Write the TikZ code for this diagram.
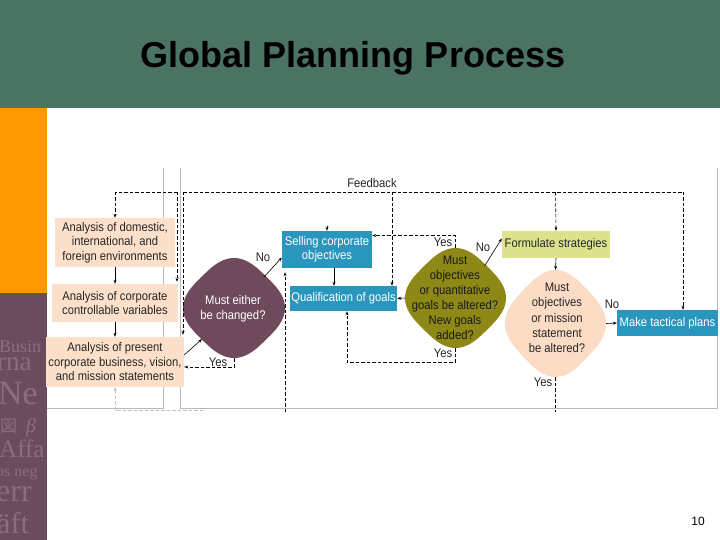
\documentclass[tikz,border=0pt]{standalone}
\usepackage{fontspec}
\setmainfont{Liberation Sans}
\newfontfamily\condfont[FakeStretch=0.9]{Liberation Sans}
\newfontfamily\decofont{Liberation Serif}
\newfontfamily\cjkfont{Noto Sans CJK SC}
\usetikzlibrary{shapes.geometric,arrows.meta}
\definecolor{hdr}{HTML}{4B7363}
\definecolor{orng}{HTML}{FF9900}
\definecolor{plum}{HTML}{6B4C5F}
\definecolor{plumtxt}{HTML}{8A6D80}
\definecolor{peach}{HTML}{FCE0C9}
\definecolor{teal}{HTML}{2A96BE}
\definecolor{dplum}{HTML}{6F4A5C}
\definecolor{olive}{HTML}{8E8916}
\definecolor{lime}{HTML}{DCE38C}
\definecolor{dpeach}{HTML}{FDDCC6}
\newcommand\blobpath[2]{plot[domain=0.5:360.5, samples=121, smooth cycle] ({#1*(sign(cos(\x))*abs(cos(\x))^0.667-sign(sin(\x))*abs(sin(\x))^0.667)/1.588},{#2*(sign(cos(\x))*abs(cos(\x))^0.667+sign(sin(\x))*abs(sin(\x))^0.667)/1.588})}
\begin{document}
\begin{tikzpicture}[x=1pt,y=-1pt,
  txt/.style={font=\condfont\fontsize{12.5}{14.5}\selectfont, align=center, inner sep=0pt},
  pbox/.style={txt, fill=peach, text=black!85},
  tbox/.style={txt, fill=teal, text=white},
  lbox/.style={txt, fill=lime, text=black!85},
  dia/.style={diamond, inner sep=0pt},
  lbl/.style={font=\condfont\fontsize{12.5}{14}\selectfont, inner sep=0pt, text=black!85},
  arr/.style={-{Stealth[length=4pt,width=3pt]}},
  con/.style={line width=0.6pt, black},
  dsh/.style={line width=0.6pt, dash pattern=on 3.5pt off 2pt, black},
  frame/.style={line width=0.8pt, gray!55},
  deco/.style={text=plumtxt, anchor=base west, inner sep=0pt}]
\useasboundingbox (0,0) rectangle (720,540);
\fill[white] (0,0) rectangle (720,540);
\fill[hdr] (0,0) rectangle (720,108);
\node[font=\bfseries\fontsize{36}{40}\selectfont, text=black] (title) at (353,58) {Global Planning Process};
\fill[orng] (0,108) rectangle (47,293);
\fill[plum] (0,293) rectangle (47,540);
\begin{scope}
\clip (0,293) rectangle (47,540);
\node[deco, font=\decofont\fontsize{18}{18}\selectfont] (dk1) at (-1,352) {Busin};
\node[deco, font=\decofont\fontsize{27}{27}\selectfont] (dk2) at (-3,370) {rna};
\node[deco, font=\decofont\fontsize{34}{34}\selectfont] (dk3) at (-2,404) {Ne};
\node[deco, font=\cjkfont\fontsize{17}{17}\selectfont] (dk4) at (0,432) {図};
\node[deco, font=\decofont\itshape\fontsize{20}{20}\selectfont] (dk5) at (26,432) {β};
\node[deco, font=\decofont\fontsize{25}{25}\selectfont] (dk6) at (-1,457) {Affa};
\node[deco, font=\decofont\fontsize{16}{16}\selectfont] (dk7) at (-4,476) {os neg};
\node[deco, font=\decofont\fontsize{32}{32}\selectfont] (dk8) at (-4,501) {err};
\node[deco, font=\decofont\fontsize{30}{30}\selectfont] (dk9) at (-3,533) {äft};
\end{scope}
% frame
\draw[frame] (47,408) -- (163,408) -- (163,168);
\draw[frame] (180,168) -- (180,408) -- (717,408) -- (717,168);
% coordinates
\coordinate (fbL) at (115,192);
\coordinate (fbA) at (177,192);
\coordinate (fbB) at (183,192);
\coordinate (fbQ) at (392,192);
\coordinate (fbF) at (555.5,192);
\coordinate (fbR) at (683,192);
\coordinate (botS) at (285,412);
\coordinate (botD) at (555.5,412);
\coordinate (gb1) at (203,410);
\coordinate (gb0) at (115,410);
% boxes
\node[pbox, minimum width=120pt, minimum height=49pt] (A1) at (115,242.5) {Analysis of domestic,\\international, and\\foreign environments};
\node[pbox, minimum width=126pt, minimum height=38pt] (A2) at (115,303) {Analysis of corporate\\controllable variables};
\node[pbox, minimum width=138pt, minimum height=50pt] (A3) at (115,362) {Analysis of present\\corporate business, vision,\\and mission statements};
\node[tbox, minimum width=90pt, minimum height=37pt] (S) at (327,249.5) {Selling corporate\\objectives};
\node[tbox, minimum width=107pt, minimum height=25pt] (Q) at (343.5,298.5) {Qualification of goals};
\node[lbox, minimum width=108pt, minimum height=27pt] (F) at (556,244.5) {Formulate strategies};
\node[tbox, minimum width=101pt, minimum height=26pt] (M) at (667.5,323) {Make tactical plans};
% decision shapes (rounded, bulging diamonds)
\node[dia, minimum width=102pt, minimum height=100pt] (D1) at (234,308) {};
\node[dia, minimum width=101pt, minimum height=100pt] (D2) at (455.5,298) {};
\node[dia, minimum width=101pt, minimum height=107pt] (D3) at (555.5,323.5) {};
\fill[dplum, shift={(D1.center)}] \blobpath{51}{50};
\fill[olive, shift={(D2.center)}] \blobpath{50.5}{50};
\fill[dpeach, shift={(D3.center)}] \blobpath{50.5}{53.5};
\node[txt, text=white] (t1) at (233,309) {Must either\\be changed?};
\node[txt, text=black!90, font=\condfont\fontsize{12.5}{15}\selectfont] (t2) at (455,297.5) {Must\\objectives\\or quantitative\\goals be altered?\\New goals\\added?};
\node[txt, text=black!85, font=\condfont\fontsize{12.5}{15.3}\selectfont] (t3) at (557,318) {Must\\objectives\\or mission\\statement\\be altered?};
% labels
\node[lbl] (fbk) at (372,183) {Feedback};
\node[lbl] (n1) at (263,257) {No};
\node[lbl] (y1) at (218,362) {Yes};
\node[lbl] (y2) at (443,242) {Yes};
\node[lbl] (y3) at (443,353) {Yes};
\node[lbl] (n2) at (483,247) {No};
\node[lbl] (n3) at (612,304) {No};
\node[lbl] (y4) at (543,382) {Yes};
\node[font=\fontsize{12}{14}\selectfont, inner sep=0pt] (pg) at (698,521) {10};
% solid connectors
\draw[con,arr] (A1.south) -- (A2.north);
\draw[con,arr] (A2.south) -- (A3.north);
\draw[con,arr] ([yshift=7pt]A3.east) -- ([xshift=-32pt,yshift=-31pt]D1.center);
\draw[con,arr] ([xshift=30pt,yshift=31pt]D1.center) -- ([yshift=-8pt]S.west);
\draw[con,arr] ([xshift=7pt]S.south) -- ([xshift=7pt]S.south |- Q.north);
\draw[con,arr] ([yshift=5pt]S.north) -- (S.north);
\draw[con,arr] (D2.west) -- (Q.east);
\draw[con,arr] ([xshift=29pt,yshift=32pt]D2.center) -- ([yshift=6pt]F.west);
\draw[con,arr] (F.south) -- (D3.north);
\draw[con,arr] (D3.east) -- (M.west);
% dashed connectors
\draw[dsh,arr] (D1.south) |- ([yshift=-5pt]A3.east);
\draw[dsh,arr] (D2.north) |- ([yshift=14pt]S.east);
\draw[dsh,arr] (D2.south) -- (455.5,362) -| ([xshift=3.5pt]Q.south);
\draw[dsh] (D3.south) -- (botD);
\draw[dsh] (fbA) -- (fbL);
\draw[dsh,arr] (fbL) -- (A1.north);
\draw[dsh,arr] (fbA) -- ([yshift=2pt]fbA |- A2.north);
\draw[dsh] (fbB) -- (fbR);
\draw[dsh,arr] (fbB) -- ([yshift=2pt]fbB |- A3.north);
\draw[dsh,arr] (fbQ) -- (fbQ |- Q.north);
\draw[dsh,arr] (fbF) -- (F.north);
\draw[dsh,arr] (fbR) -- (fbR |- M.north);
\draw[dsh,arr] (botS) -- ([yshift=-4pt]botS |- S.south);
\draw[dsh,arr,gray!50] (gb1) -- (gb0) -- (A3.south);
\end{tikzpicture}
\end{document}
